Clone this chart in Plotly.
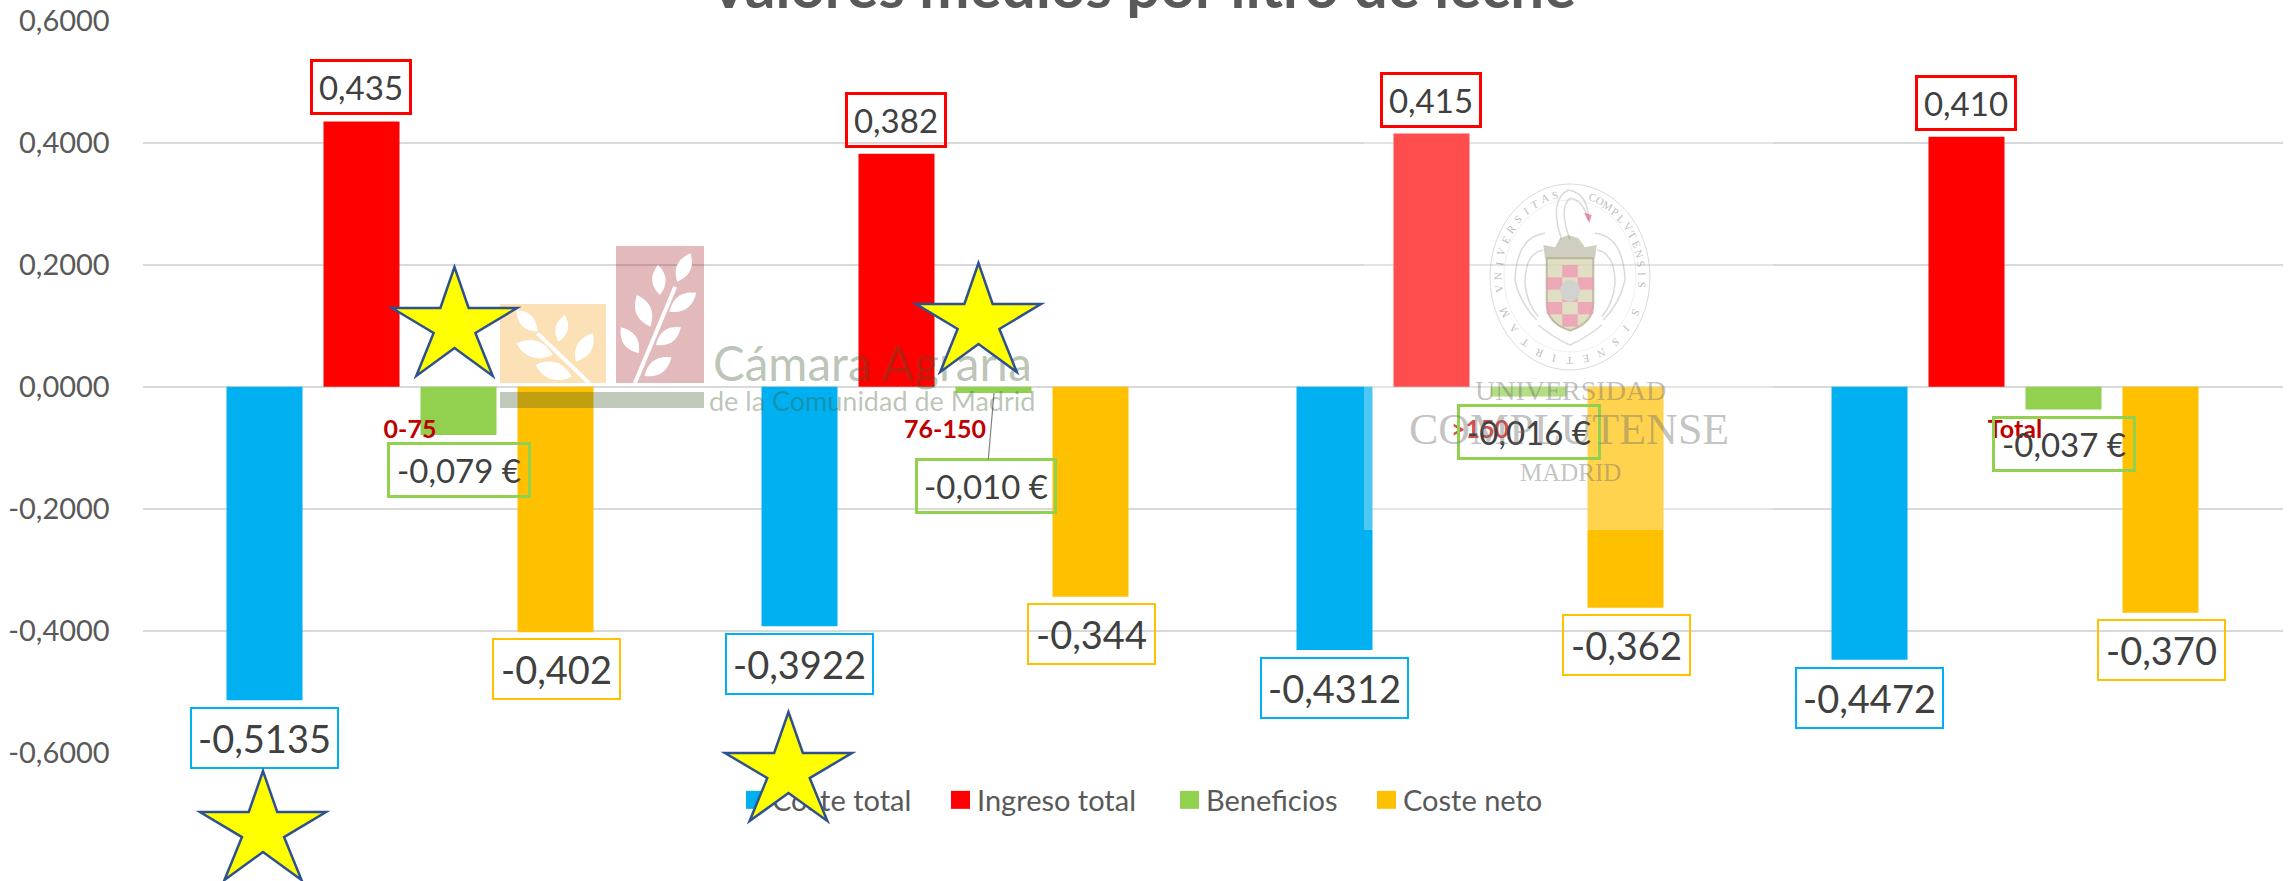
import math
import plotly.graph_objects as go

W, H = 2290, 881

categories = ["0-75", "76-150", ">150", "Total"]
coste_total = [-0.5135, -0.3922, -0.4312, -0.4472]
ingreso_total = [0.435, 0.382, 0.415, 0.410]
beneficios = [-0.079, -0.010, -0.016, -0.037]
coste_neto = [-0.402, -0.344, -0.362, -0.370]
y_ticks = [0.6, 0.4, 0.2, 0.0, -0.2, -0.4, -0.6]
y_tick_labels = ["0,6000", "0,4000", "0,2000", "0,0000", "-0,2000", "-0,4000", "-0,6000"]
title_text = "Valores medios por litro de leche"

BLUE, RED, GREEN, ORANGE = "#00B0F0", "#FF0000", "#92D050", "#FFC000"
FONT = "Lato"


def X(x):
    return x / W


def Y(y):
    return 1 - y / H


def path(points, close=True):
    s = "M " + " L ".join(f"{X(a):.5f} {Y(b):.5f}" for a, b in points)
    return s + (" Z" if close else "")


def curve(points):
    # quadratic segments: start, ctrl, end, ctrl, end ...
    s = f"M {X(points[0][0]):.5f} {Y(points[0][1]):.5f}"
    for i in range(1, len(points) - 1, 2):
        c, e = points[i], points[i + 1]
        s += f" Q {X(c[0]):.5f} {Y(c[1]):.5f} {X(e[0]):.5f} {Y(e[1]):.5f}"
    return s


fig = go.Figure()
for name, vals, col in [
    ("Coste total", coste_total, BLUE),
    ("Ingreso total", ingreso_total, RED),
    ("Beneficios", beneficios, GREEN),
    ("Coste neto", coste_neto, ORANGE),
]:
    fig.add_bar(name=name, x=categories, y=vals, marker=dict(color=col, line=dict(width=0)))

annotations = []
shapes = []


def box_label(cat, val, text, col, xs, gap, w, h, size, bw, arrow=None):
    d = dict(
        x=cat, y=val, xref="x", yref="y", xshift=xs, text=text, width=w - 2 * bw, height=h - 2 * bw,
        bordercolor=col, borderwidth=bw, borderpad=0, bgcolor="rgba(0,0,0,0)",
        font=dict(family=FONT, size=size, color="#404040"), align="center", valign="middle",
    )
    if arrow:
        d.update(showarrow=True, ax=arrow[0], ay=arrow[1], axref="pixel", ayref="pixel",
                 arrowhead=0, arrowwidth=1.2, arrowcolor="#808080", standoff=0, startstandoff=0)
    else:
        d.update(showarrow=False, yshift=gap)
    annotations.append(d)


for i, c in enumerate(categories):
    box_label(c, coste_total[i], f"{coste_total[i]:.4f}".replace(".", ","), BLUE, -146, -38, 149, 62, 38, 2)
    box_label(c, ingreso_total[i], f"{ingreso_total[i]:.3f}".replace(".", ","), RED, -49, 34, 102, 56, 33, 3)
    lab = f"{beneficios[i]:.3f} €".replace(".", ",")
    if c == "76-150":
        box_label(c, beneficios[i], lab, GREEN, 49, 0, 142, 56, 33, 3, arrow=(-8, 93))
    else:
        box_label(c, beneficios[i], lab, GREEN, 49, -35, 144, 56, 33, 3)
    box_label(c, coste_neto[i], f"{coste_neto[i]:.3f}".replace(".", ","), ORANGE, 146, -37, 129, 62, 38, 2)

# --- translucent white panel of the second logo
shapes.append(dict(type="rect", xref="paper", yref="paper", x0=X(1364), x1=X(1773), y0=Y(119), y1=Y(530),
                   fillcolor="rgba(255,255,255,0.3)", line=dict(width=0), layer="above"))


def add_shape_path(d, fill=None, line=None, lw=1):
    shapes.append(dict(type="path", xref="paper", yref="paper", path=d, layer="above",
                       fillcolor=fill or "rgba(0,0,0,0)",
                       line=dict(color=line or "rgba(0,0,0,0)", width=lw if line else 0)))


def leaf(x1, y1, x2, y2, fat=0.3):
    # leaf outline between two points, in zoomed logo coordinates
    a = (480 + x1 / 2.613, 220 + y1 / 3)
    b = (480 + x2 / 2.613, 220 + y2 / 3)
    mx, my = (a[0] + b[0]) / 2, (a[1] + b[1]) / 2
    dx, dy = b[0] - a[0], b[1] - a[1]
    c1 = (mx - dy * fat * 1.5, my + dx * fat * 1.5)
    c2 = (mx + dy * fat * 1.5, my - dx * fat * 1.5)
    return curve([a, c1, b, c2, a]) + " Z"


# --- Cámara Agraria logo
shapes.append(dict(type="rect", xref="paper", yref="paper", x0=X(616), x1=X(704), y0=Y(246), y1=Y(383),
                   fillcolor="#9E1B20", opacity=0.3, line=dict(width=0), layer="above"))
shapes.append(dict(type="rect", xref="paper", yref="paper", x0=X(500), x1=X(606), y0=Y(304), y1=Y(383),
                   fillcolor="#F59C10", opacity=0.3, line=dict(width=0), layer="above"))
shapes.append(dict(type="rect", xref="paper", yref="paper", x0=X(500), x1=X(704), y0=Y(392), y1=Y(408),
                   fillcolor="#3F5A30", opacity=0.33, line=dict(width=0), layer="above"))
for l in [(515, 185, 550, 100), (470, 225, 465, 135), (495, 275, 565, 218), (445, 320, 410, 225),
          (460, 375, 525, 322), (415, 400, 368, 322), (430, 468, 500, 412),
          (150, 335, 95, 270), (205, 365, 222, 285), (250, 425, 295, 340), (190, 405, 95, 370),
          (240, 470, 145, 435)]:
    add_shape_path(leaf(*l), fill="#FFFFFF")
add_shape_path(path([(480 + 405 / 2.613, 383), (480 + 510 / 2.613, 220 + 200 / 3)], close=False), line="#FFFFFF", lw=4)
add_shape_path(path([(480 + 285 / 2.613, 383), (480 + 150 / 2.613, 220 + 340 / 3)], close=False), line="#FFFFFF", lw=4)


def text_at(x, y, text, size, color, family=FONT, angle=0, **kw):
    annotations.append(dict(xref="paper", yref="paper", x=X(x), y=Y(y), text=text, showarrow=False,
                            textangle=angle, xanchor="center", yanchor="middle",
                            font=dict(family=family, size=size, color=color), **kw))


text_at(872, 362, "Cámara Agraria", 47.5, "rgba(60,90,50,0.36)")
text_at(872, 400, "de la Comunidad de Madrid", 27, "rgba(60,90,50,0.36)")

# --- Universidad Complutense logo
SERIF = "Liberation Serif"
GREY = "rgba(110,110,110,0.42)"
text_at(1570, 391, "UNIVERSIDAD", 28, GREY, SERIF)
text_at(1569, 429, "COMPLUTENSE", 44, GREY, SERIF)
text_at(1570, 472, "MADRID", 25, GREY, SERIF)


def S(a, b):
    return (1480 + a / 3, 170 + b / 3)


LG = "rgba(150,150,150,0.35)"
shapes.append(dict(type="circle", xref="paper", yref="paper", x0=X(1490), x1=X(1650), y0=Y(184), y1=Y(370),
                   line=dict(color=LG, width=1), fillcolor="rgba(0,0,0,0)", layer="above"))
shapes.append(dict(type="circle", xref="paper", yref="paper", x0=X(1504), x1=X(1636), y0=Y(200), y1=Y(352),
                   line=dict(color="rgba(150,150,150,0.15)", width=1), fillcolor="rgba(0,0,0,0)", layer="above"))
add_shape_path(curve([S(245, 210), S(205, 90), S(265, 60), S(325, 70), S(325, 150)]), line=LG, lw=1.5)
add_shape_path(curve([S(270, 210), S(235, 110), S(270, 85), S(305, 90), S(320, 135)]), line=LG, lw=1.5)
add_shape_path(path([S(312, 128), S(335, 135), S(328, 160)]), fill="rgba(220,80,120,0.6)")
for p in [
    [S(195, 190), S(110, 200), S(105, 330), S(120, 400), S(170, 450)],
    [S(190, 240), S(135, 250), S(135, 340), S(140, 400), S(175, 440)],
    [S(345, 190), S(430, 200), S(435, 330), S(420, 400), S(370, 450)],
    [S(350, 240), S(405, 250), S(405, 340), S(400, 400), S(365, 440)],
    [S(175, 465), S(215, 500), S(270, 525), S(325, 500), S(365, 465)],
]:
    add_shape_path(curve(p), line=LG, lw=1.5)
add_shape_path(path([S(195, 265), S(190, 225), S(225, 232), S(240, 205), S(265, 195), S(295, 205),
                     S(315, 232), S(350, 225), S(345, 265)]), fill="rgba(170,165,140,0.55)")
add_shape_path(curve([S(200, 265), S(270, 265), S(340, 265), S(340, 340), S(340, 400), S(340, 460), S(270, 482),
                      S(200, 460), S(200, 400), S(200, 340), S(200, 265)]) + " Z", fill="rgba(215,212,175,0.75)",
               line="rgba(170,165,140,0.7)", lw=2)
for col, row in [(1, 0), (0, 1), (2, 1), (0, 3), (2, 3), (1, 2), (1, 4)]:
    ax, ay = 200 + col * 46.6, 285 + (row - 0) * 37
    shapes.append(dict(type="rect", xref="paper", yref="paper", x0=X(S(ax, 0)[0]), x1=X(S(ax + 46.6, 0)[0]),
                       y0=Y(S(0, ay)[1]), y1=Y(S(0, ay + 37)[1]),
                       fillcolor="rgba(240,150,180,0.75)", line=dict(width=0), layer="above"))
shapes.append(dict(type="circle", xref="paper", yref="paper", x0=X(S(240, 0)[0]), x1=X(S(300, 0)[0]),
                   y0=Y(S(0, 330)[1]), y1=Y(S(0, 395)[1]), fillcolor="rgb(210,210,208)",
                   line=dict(width=0), layer="above"))


def rim(word, a0, a1):
    for k, ch in enumerate(word):
        a = math.radians(a0 + (a1 - a0) * k / (len(word) - 1))
        x = 1570 + 72 * math.cos(a)
        y = 277 + 84 * math.sin(a)
        ang = math.degrees(math.atan2(84 * math.sin(a), 72 * math.cos(a)))
        text_at(x, y, ch, 11, "rgba(120,120,120,0.5)", SERIF, angle=ang + 90 if abs(a0) > 90 or a0 < 0 else ang - 90)


rim("VNIVERSITAS", 172, 258)
rim("COMPLVTENSIS", -72, 5)
rim("MATRITENSIS", 155, 25)

# --- stars
star_boxes = [(392, 517, 267), (916, 1041, 263), (200, 326, 771), (725, 852, 712)]
star_shape = [(0.5, 0), (0.387, 0.376), (0, 0.376), (0.333, 0.606), (0.194, 1), (0.5, 0.743),
              (0.806, 1), (0.667, 0.606), (1, 0.376), (0.613, 0.376)]
for x0, x1, y0 in star_boxes:
    pts = [(x0 + (x1 - x0) * a, y0 + 109 * b) for a, b in star_shape]
    add_shape_path(path(pts), fill="#FFFF00", line="#2F528F", lw=2.5)

fig.update_layout(
    width=W, height=H, margin=dict(l=0, r=0, t=0, b=0), autosize=False,
    paper_bgcolor="#FFFFFF", plot_bgcolor="#FFFFFF",
    barmode="group", bargap=0.2748, bargroupgap=0.2165,
    font=dict(family=FONT, color="#595959", size=29),
    title=dict(text=title_text, x=1142 / W, xanchor="center", xref="paper", yref="paper",
               y=1 - 8 / H, yanchor="bottom", pad=dict(b=0, t=0),
               font=dict(family=FONT, size=60, color="#595959", weight="bold")),
    xaxis=dict(domain=[142.5 / W, 2282.5 / W], type="category", anchor="free", position=1 - 386.7 / H,
               showline=False, showgrid=False, zeroline=False, ticks="outside", ticklen=20,
               tickcolor="rgba(0,0,0,0)", automargin=False,
               tickfont=dict(family=FONT, size=25, color="#C00000", weight="bold")),
    yaxis=dict(domain=[1 - 753 / H, 1 - 20.7 / H], range=[-0.6, 0.6], tickvals=y_ticks, ticktext=y_tick_labels,
               gridcolor="#D9D9D9", gridwidth=2, zeroline=True, zerolinecolor="#D9D9D9", zerolinewidth=2,
               showline=False, ticks="outside", ticklen=26, tickcolor="rgba(0,0,0,0)", automargin=False,
               tickfont=dict(family=FONT, size=29, color="#595959")),
    legend=dict(orientation="h", x=X(730), y=Y(800), xanchor="left", yanchor="middle",
                bgcolor="rgba(0,0,0,0)", font=dict(family=FONT, size=29, color="#595959")),
    annotations=annotations, shapes=shapes,
)

post = """
document.body.style.margin = '0';
document.documentElement.style.overflow = 'hidden';
var gd = document.getElementById('{plot_id}');
var svgs = gd.querySelectorAll('svg.main-svg');
var top_svg = svgs[svgs.length - 1];
gd.querySelectorAll('.shapelayer path').forEach(function (p) {
  if ((p.style.fill || '').indexOf('255, 255, 0') >= 0) { top_svg.appendChild(p); }
});
var swatchX = [746, 951, 1180, 1377];
var lg = gd.querySelector('.legend');
var lx = parseFloat(lg.getAttribute('transform').match(/translate\\(([-\\d.]+)/)[1]);
var sb = lg.querySelector('.scrollbox');
if (sb) { sb.removeAttribute('clip-path'); sb.style.clipPath = 'none'; }
lg.removeAttribute('clip-path');
lg.querySelectorAll('.traces').forEach(function (t, i) {
  var m = t.getAttribute('transform').match(/translate\\(([-\\d.]+),\\s*([-\\d.]+)/);
  t.setAttribute('transform', 'translate(' + (swatchX[i] + 9.5 - 20 - lx) + ',' + m[2] + ')');
  t.querySelectorAll('.legendpoints path').forEach(function (p) { p.setAttribute('d', 'M9.5,9H-9.5V-9H9.5Z'); });
  var tx = t.querySelector('.legendtext');
  tx.setAttribute('x', '36.5');
});
"""
fig.write_html("out.html", post_script=post, config=dict(displayModeBar=False))
